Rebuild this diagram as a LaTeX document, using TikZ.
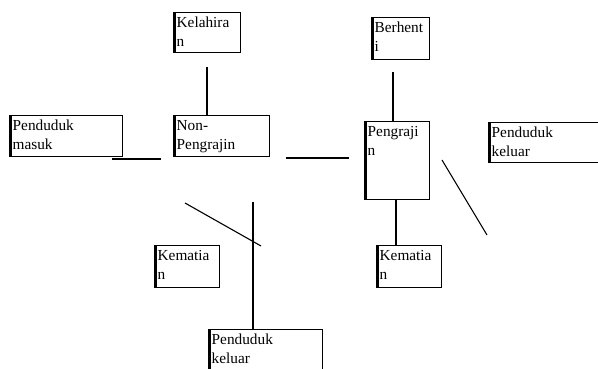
\documentclass[tikz,border=0pt]{standalone}
\usepackage{fontspec}
\setmainfont{Liberation Serif}
\begin{document}
\begin{tikzpicture}[x=1pt,y=-1pt,
  box/.style={draw, line width=0.8pt, anchor=north west, inner sep=0pt},
  txt/.style={anchor=north west, inner sep=0pt, align=left, font=\fontsize{15.3}{19}\selectfont},
  ln/.style={line width=1.1pt}]
\useasboundingbox (0,0) rectangle (598,369);
\clip (0,0) rectangle (598,369);
\fill[white] (0,0) rectangle (598,369);
% boxes
\node[box, minimum width=67pt, minimum height=40pt] (kel) at (173,12) {};
\node[box, minimum width=113pt, minimum height=41pt] (pmasuk) at (9,115) {};
\node[box, minimum width=96pt, minimum height=41pt] (non) at (173,115) {};
\node[box, minimum width=58pt, minimum height=42pt] (ber) at (371,17) {};
\node[box, minimum width=65pt, minimum height=78pt] (peng) at (364,121) {};
\node[box, minimum width=115pt, minimum height=40pt] (pkR) at (488,122) {};
\node[box, minimum width=65pt, minimum height=42pt] (kemL) at (154,245) {};
\node[box, minimum width=114pt, minimum height=44pt] (pkB) at (208,329) {};
\node[box, minimum width=65pt, minimum height=42pt] (kemR) at (376,245) {};
\foreach \n in {kel,pmasuk,non,ber,peng,pkR,kemL,pkB,kemR}{
  \draw[line width=3pt] ([xshift=1.2pt]\n.north west) -- ([xshift=1.2pt]\n.south west);
  \draw[line width=1.6pt] ([yshift=0.4pt]\n.south west) -- ([yshift=0.4pt]\n.south east);
  \draw[line width=1.3pt] (\n.north east) -- (\n.south east);
}
% texts
\node[txt] (kelT) at ([shift={(3.5,5)}]kel.north west) {Kelahira\\n};
\node[txt] (pmasukT) at ([shift={(3.5,5)}]pmasuk.north west) {Penduduk\\masuk};
\node[txt] (nonT) at ([shift={(3.5,5)}]non.north west) {Non-\\Pengrajin};
\node[txt] (berT) at ([shift={(3.5,5)}]ber.north west) {Berhent\\i};
\node[txt] (pengT) at ([shift={(3.5,5)}]peng.north west) {Pengraji\\n};
\node[txt] (pkRT) at ([shift={(3.5,5)}]pkR.north west) {Penduduk\\keluar};
\node[txt] (kemLT) at ([shift={(3.5,5)}]kemL.north west) {Kematia\\n};
\node[txt] (pkBT) at ([shift={(3.5,5)}]pkB.north west) {Penduduk\\keluar};
\node[txt] (kemRT) at ([shift={(3.5,5)}]kemR.north west) {Kematia\\n};
% connector end points
\coordinate (a1) at (207,67);  \coordinate (a2) at (207,115);
\coordinate (b1) at (112,159); \coordinate (b2) at (161,159);
\coordinate (c1) at (286,158); \coordinate (c2) at (349,158);
\coordinate (d1) at (393,72);  \coordinate (d2) at (393,121);
\coordinate (e1) at (396,200); \coordinate (e2) at (396,245);
\coordinate (f1) at (442,160); \coordinate (f2) at (487,235);
\coordinate (g1) at (185,203); \coordinate (g2) at (261,246);
\coordinate (h1) at (253,202); \coordinate (h2) at (253,329);
\draw[ln] (a1) -- (a2);
\draw[ln] (b1) -- (b2);
\draw[ln] (c1) -- (c2);
\draw[ln] (d1) -- (d2);
\draw[ln] (e1) -- (e2);
\draw[ln] (f1) -- (f2);
\draw[ln] (g1) -- (g2);
\draw[ln] (h1) -- (h2);
\end{tikzpicture}
\end{document}
